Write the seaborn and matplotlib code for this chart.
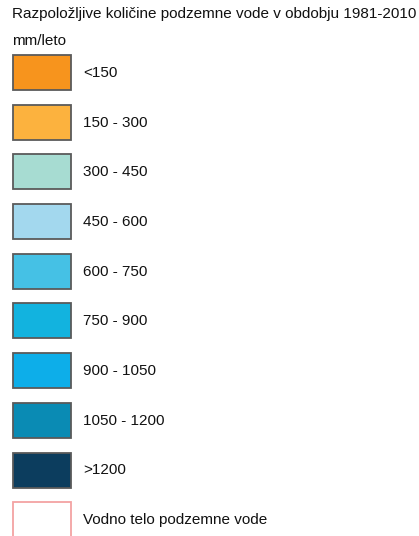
import matplotlib
matplotlib.use("Agg")
import matplotlib.pyplot as plt
from matplotlib.patches import Patch
import seaborn as sns

title = "Razpoložljive količine podzemne vode v obdobju 1981-2010"
unit = "mm/leto"
labels = ["<150", "150 - 300", "300 - 450", "450 - 600", "600 - 750",
          "750 - 900", "900 - 1050", "1050 - 1200", ">1200",
          "Vodno telo podzemne vode"]
fills = ["#F7941D", "#FCB23E", "#A7DCD2", "#A3D8EE", "#45C1E5",
         "#12B3DF", "#0DAEE9", "#0A8BB4", "#0C3D5E", "#FFFFFF"]
edges = ["#5a5a5a"] * 9 + ["#F3A3A3"]

sns.set_theme(style="white")
plt.rcParams['font.family'] = ['Liberation Sans', 'DejaVu Sans']

W, H = 419, 536
fig = plt.figure(figsize=(W / 100, H / 100), dpi=100)
fig.patch.set_facecolor("white")

pal = sns.color_palette(fills)
handles = [Patch(facecolor=c, edgecolor=e, linewidth=1.3) for c, e in zip(pal, edges)]

fig.text(12 / W, 1 - 14 / H, title, fontsize=11, color="#111111", va="center", ha="left")
fig.text(12 / W, 1 - 41 / H, unit, fontsize=11, color="#111111", va="center", ha="left")

fs = 11
leg = fig.legend(handles, labels, loc="upper left", bbox_to_anchor=(13 / W, 1 - 55 / H),
                 frameon=False, borderpad=0, borderaxespad=0, fontsize=fs,
                 handlelength=3.8, handleheight=3.15, labelspacing=0.96,
                 handletextpad=0.79)
for t in leg.get_texts():
    t.set_color("#111111")

fig.savefig("out.png", dpi=100)
